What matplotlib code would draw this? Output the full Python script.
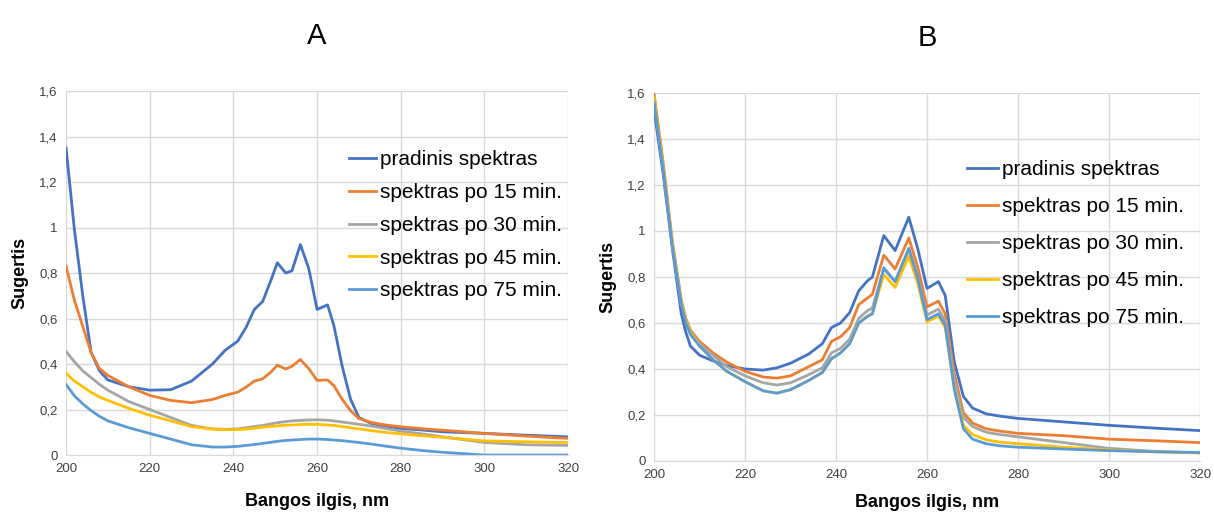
import matplotlib
matplotlib.use("Agg")
import matplotlib.pyplot as plt

# wavelengths (nm) and absorbance readings, panel A
wl_a = [200, 202, 204, 206, 208, 210, 215, 220, 225, 230, 235, 238, 241, 243, 245, 247,
        249, 250.5, 252.5, 254, 256, 258, 260, 262.5, 264, 266, 268, 270, 273, 276, 280,
        285, 290, 300, 310, 320]
a_0 = [1.35, 0.99, 0.70, 0.45, 0.37, 0.33, 0.30, 0.285, 0.287, 0.325, 0.40, 0.46, 0.50,
       0.56, 0.64, 0.675, 0.77, 0.845, 0.80, 0.81, 0.925, 0.82, 0.64, 0.66, 0.57, 0.39,
       0.245, 0.165, 0.138, 0.128, 0.117, 0.11, 0.102, 0.095, 0.087, 0.08]
a_15 = [0.83, 0.68, 0.565, 0.45, 0.38, 0.35, 0.30, 0.262, 0.24, 0.23, 0.244, 0.262, 0.276,
        0.298, 0.325, 0.335, 0.365, 0.395, 0.378, 0.39, 0.42, 0.38, 0.328, 0.33, 0.305,
        0.245, 0.195, 0.16, 0.143, 0.133, 0.124, 0.116, 0.109, 0.095, 0.083, 0.073]
a_30 = [0.455, 0.41, 0.37, 0.34, 0.31, 0.285, 0.235, 0.20, 0.165, 0.13, 0.115, 0.113, 0.115,
        0.12, 0.125, 0.13, 0.137, 0.142, 0.147, 0.15, 0.152, 0.154, 0.155, 0.153, 0.15,
        0.145, 0.14, 0.135, 0.127, 0.118, 0.105, 0.093, 0.08, 0.055, 0.045, 0.042]
a_45 = [0.36, 0.325, 0.30, 0.275, 0.255, 0.24, 0.205, 0.175, 0.15, 0.125, 0.113, 0.111,
        0.112, 0.114, 0.118, 0.122, 0.126, 0.128, 0.131, 0.132, 0.134, 0.135, 0.135, 0.132,
        0.13, 0.125, 0.12, 0.115, 0.107, 0.10, 0.093, 0.085, 0.078, 0.062, 0.058, 0.055]
a_75 = [0.31, 0.26, 0.225, 0.195, 0.17, 0.15, 0.12, 0.095, 0.07, 0.045, 0.035, 0.035, 0.038,
        0.042, 0.046, 0.051, 0.056, 0.06, 0.064, 0.066, 0.068, 0.07, 0.07, 0.068, 0.066,
        0.063, 0.059, 0.055, 0.048, 0.04, 0.03, 0.02, 0.012, 0.0, 0.0, 0.0]

# panel B
wl_b = [200, 202, 204, 206, 207, 208, 210, 213, 216, 220, 224, 227, 230, 234, 237, 239, 241,
        243, 245, 247, 248, 250.5, 253, 256, 258, 260, 262.5, 264, 266, 268, 270, 273, 276,
        280, 290, 300, 310, 320]
b_0 = [1.53, 1.25, 0.93, 0.64, 0.56, 0.50, 0.46, 0.435, 0.415, 0.40, 0.395, 0.405, 0.425,
       0.465, 0.51, 0.58, 0.60, 0.645, 0.74, 0.785, 0.80, 0.98, 0.915, 1.06, 0.92, 0.75,
       0.78, 0.72, 0.43, 0.28, 0.23, 0.205, 0.195, 0.185, 0.17, 0.155, 0.143, 0.132]
b_15 = [1.6, 1.3, 0.96, 0.70, 0.62, 0.57, 0.52, 0.47, 0.43, 0.39, 0.365, 0.36, 0.37, 0.41,
        0.44, 0.52, 0.54, 0.58, 0.68, 0.71, 0.725, 0.895, 0.835, 0.97, 0.84, 0.67, 0.695,
        0.64, 0.38, 0.21, 0.165, 0.14, 0.13, 0.12, 0.11, 0.095, 0.088, 0.08]
b_30 = [1.58, 1.28, 0.95, 0.69, 0.61, 0.565, 0.51, 0.46, 0.41, 0.37, 0.34, 0.33, 0.34, 0.375,
        0.405, 0.47, 0.49, 0.53, 0.62, 0.655, 0.665, 0.835, 0.78, 0.92, 0.80, 0.635, 0.66,
        0.61, 0.35, 0.19, 0.15, 0.125, 0.115, 0.105, 0.08, 0.055, 0.042, 0.035]
b_45 = [1.58, 1.28, 0.95, 0.69, 0.61, 0.56, 0.50, 0.44, 0.39, 0.345, 0.305, 0.295, 0.31,
        0.35, 0.385, 0.445, 0.47, 0.51, 0.60, 0.63, 0.64, 0.81, 0.755, 0.89, 0.77, 0.605,
        0.63, 0.58, 0.32, 0.155, 0.115, 0.092, 0.082, 0.075, 0.06, 0.048, 0.04, 0.035]
b_75 = [1.56, 1.27, 0.94, 0.68, 0.60, 0.55, 0.50, 0.44, 0.39, 0.345, 0.305, 0.295, 0.31,
        0.35, 0.385, 0.445, 0.47, 0.51, 0.60, 0.63, 0.64, 0.84, 0.78, 0.925, 0.79, 0.615,
        0.64, 0.59, 0.31, 0.14, 0.095, 0.075, 0.066, 0.06, 0.052, 0.045, 0.04, 0.037]

labels = ["pradinis spektras", "spektras po 15 min.", "spektras po 30 min.",
          "spektras po 45 min.", "spektras po 75 min."]
colors = ["#4472C4", "#ED7D31", "#A5A5A5", "#FFC000", "#5B9BD5"]

x_ticks = [200, 220, 240, 260, 280, 300, 320]
y_ticks = [0, 0.2, 0.4, 0.6, 0.8, 1.0, 1.2, 1.4, 1.6]
y_ticklabels = ["0", "0,2", "0,4", "0,6", "0,8", "1", "1,2", "1,4", "1,6"]

plt.rcParams["font.family"] = ["Liberation Sans", "DejaVu Sans"]

fig = plt.figure(figsize=(12.14, 5.19), dpi=100)
ax_a = fig.add_axes([0.0544, 0.1233, 0.4136, 0.7013])
ax_b = fig.add_axes([0.5387, 0.1118, 0.4498, 0.7090])


def draw(ax, wl, series, title, leg_anchor, spacing, hlen, xpad):
    for y, c, lab in zip(series, colors, labels):
        ax.plot(wl, y, color=c, linewidth=2, label=lab, solid_joinstyle="round")
    ax.set_xlim(200, 320)
    ax.set_ylim(0, 1.6)
    ax.set_xticks(x_ticks)
    ax.set_yticks(y_ticks)
    ax.set_yticklabels(y_ticklabels)
    ax.tick_params(length=0, pad=6, labelsize=9.5, labelcolor="#404040")
    ax.grid(True, color="#d9d9d9", linewidth=1)
    ax.set_axisbelow(True)
    for s in ["top", "right", "left"]:
        ax.spines[s].set_visible(False)
    ax.spines["bottom"].set_color("#d9d9d9")
    ax.set_xlabel("Bangos ilgis, nm", fontsize=13, fontweight="bold", labelpad=xpad)
    ax.set_ylabel("Sugertis", fontsize=13, fontweight="bold", labelpad=8)
    ax.set_title(title, fontsize=21, pad=34)
    ax.legend(loc="upper left", bbox_to_anchor=leg_anchor, frameon=False, fontsize=15,
              handlelength=hlen, handletextpad=0.2, labelspacing=spacing, borderpad=0,
              borderaxespad=0)


draw(ax_a, wl_a, [a_0, a_15, a_30, a_45, a_75], "A", (0.563, 0.837), 0.66, 1.3, 13)
draw(ax_b, wl_b, [b_0, b_15, b_30, b_45, b_75], "B", (0.573, 0.818), 0.87, 1.5, 9)

fig.savefig("out.png", dpi=100)
